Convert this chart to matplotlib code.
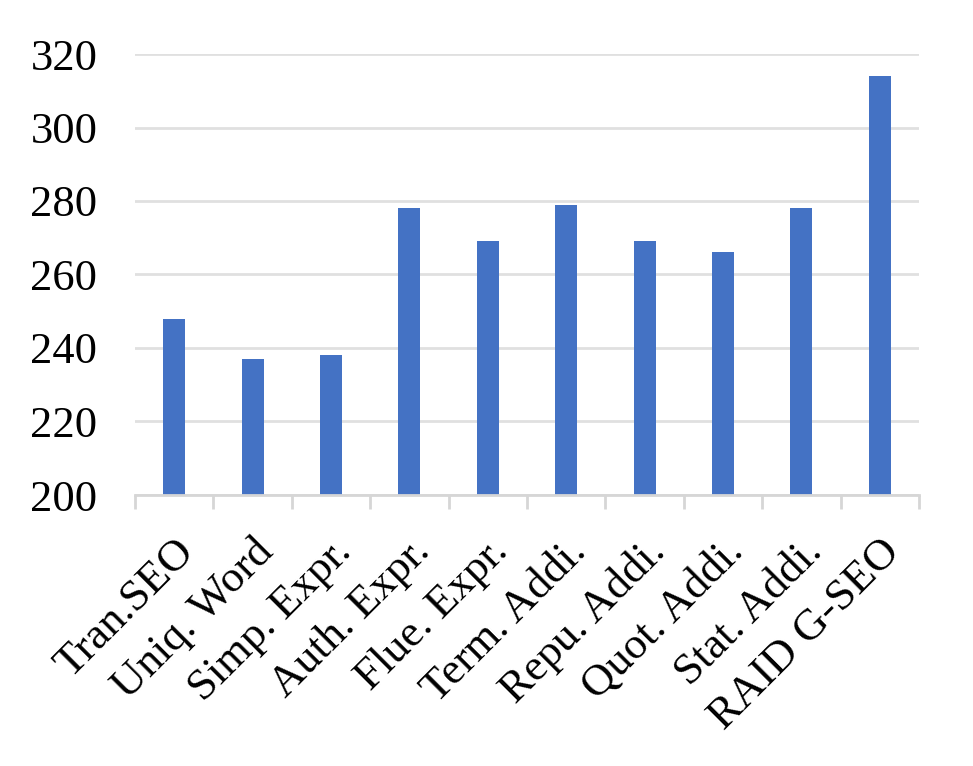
import matplotlib
matplotlib.use("Agg")
import matplotlib.pyplot as plt
import numpy as np

categories = ["Tran.SEO", "Uniq. Word", "Simp. Expr.", "Auth. Expr.", "Flue. Expr.",
              "Term. Addi.", "Repu. Addi.", "Quot. Addi.", "Stat. Addi.", "RAID G-SEO"]
values = [248, 237, 238, 278, 269, 279, 269, 266, 278, 314]
yticks = [200, 220, 240, 260, 280, 300, 320]

plt.rcParams['font.family'] = ['Liberation Serif', 'DejaVu Serif']

fig = plt.figure(figsize=(9.73, 7.66), dpi=100)
ax = fig.add_axes([135/973, 1-495/766, (919-135)/973, (495-54)/766])

x = np.arange(len(categories))
ax.bar(x, values, width=0.28, color='#4472C4', zorder=3)

ax.set_xlim(-0.5, len(categories)-0.5)
ax.set_ylim(200, 320)
ax.set_yticks(yticks)
ax.set_yticklabels([str(v) for v in yticks], fontsize=32)
ax.yaxis.grid(True, color='#e0e0e0', linewidth=2, zorder=0)
ax.tick_params(axis='y', length=0, pad=27)

for s in ['top', 'right', 'left']:
    ax.spines[s].set_visible(False)
ax.spines['bottom'].set_color('#d6d6d6')
ax.spines['bottom'].set_linewidth(2)
ax.spines['bottom'].set_zorder(4)

# separator ticks between categories
ax.set_xticks(np.arange(-0.5, len(categories), 1.0), minor=True)
ax.tick_params(axis='x', which='minor', length=10, width=2, color='#d6d6d6')
ax.set_xticks(x)
ax.set_xticklabels(categories, fontsize=32, rotation=45, ha='right', rotation_mode='anchor')
ax.tick_params(axis='x', which='major', length=0, pad=26)

fig.savefig("out.png", dpi=100, facecolor='white')
